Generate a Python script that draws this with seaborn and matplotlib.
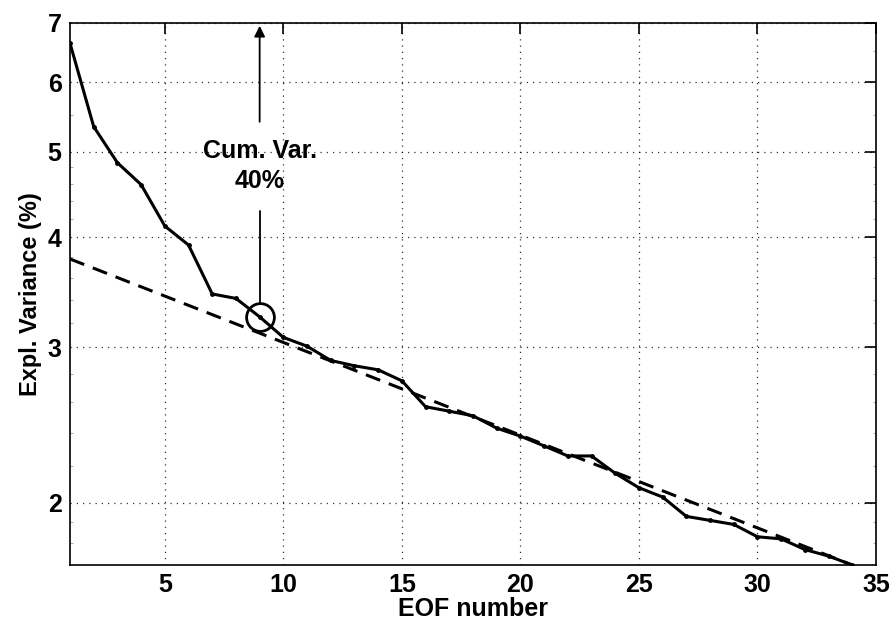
import numpy as np
import pandas as pd
import seaborn as sns
import matplotlib
matplotlib.use("Agg")
import matplotlib.pyplot as plt
from matplotlib.ticker import FixedLocator, NullFormatter

eof_number = list(range(1, 35))
expl_variance = [6.64, 5.34, 4.86, 4.59, 4.12, 3.92, 3.45, 3.41, 3.25, 3.08,
                 3.01, 2.90, 2.86, 2.83, 2.75, 2.57, 2.54, 2.51, 2.43, 2.38,
                 2.32, 2.26, 2.26, 2.16, 2.08, 2.03, 1.93, 1.91, 1.89, 1.83,
                 1.82, 1.77, 1.74, 1.70]
fit_x = [1, 34]
fit_y = [3.78, 1.70]
highlight_x = 9
highlight_y = 3.25
annotation_text = "Cum. Var.\n40%"
x_ticks = [5, 10, 15, 20, 25, 30, 35]
y_ticks = [2, 3, 4, 5, 6, 7]

sns.set_theme(style="white")
plt.rcParams['font.family'] = ['Liberation Sans', 'DejaVu Sans']
plt.rcParams['text.color'] = 'black'
plt.rcParams['axes.labelcolor'] = 'black'

df = pd.DataFrame({"EOF": eof_number, "Var": expl_variance})
df_fit = pd.DataFrame({"EOF": fit_x, "Var": fit_y})

fig = plt.figure(figsize=(8.93, 6.25), dpi=100)
ax = fig.add_axes([70/893, 60/625, 806/893, 542/625])

sns.lineplot(data=df_fit, x="EOF", y="Var", ax=ax, color="black",
             linewidth=2.2, linestyle=(0, (5, 3)))
sns.lineplot(data=df, x="EOF", y="Var", ax=ax, color="black",
             linewidth=2.2, marker="o", markersize=3.5, markeredgewidth=0)

ax.set_yscale("log")
ax.set_xlim(1, 35)
ax.set_ylim(1.7, 7)
ax.yaxis.set_major_locator(FixedLocator(y_ticks))
ax.set_yticklabels([str(t) for t in y_ticks])
ax.yaxis.set_minor_locator(FixedLocator([1.8, 1.9, 2.2, 2.4, 2.6, 2.8, 3.2, 3.4, 3.6, 3.8, 4.2, 4.4, 4.6, 4.8, 5.5, 6.5]))
ax.yaxis.set_minor_formatter(NullFormatter())
ax.xaxis.set_major_locator(FixedLocator(x_ticks))
ax.set_xticklabels([str(t) for t in x_ticks])

ax.grid(True, which="major", linestyle=(0, (1, 4)), color="black", linewidth=0.9, alpha=0.8)
for s in ax.spines.values():
    s.set_color("black")
    s.set_linewidth(1.2)

ax.tick_params(axis="both", which="major", direction="in", length=8, width=1.2,
               top=True, right=True, labelsize=18, colors="black", labelcolor="black")
ax.tick_params(axis="x", which="major", pad=6)
ax.tick_params(axis="y", which="major", pad=6)
ax.tick_params(axis="y", which="minor", direction="in", length=2, width=0.6,
               left=True, right=True, colors="0.6")
for lbl in ax.get_xticklabels() + ax.get_yticklabels():
    lbl.set_fontweight("bold")

ax.set_xlabel("EOF number", fontsize=18, fontweight="bold", labelpad=0, color="black")
ax.set_ylabel("Expl. Variance (%)", fontsize=17, fontweight="bold", labelpad=4, color="black")

# highlighted point and annotation
ax.plot([highlight_x], [highlight_y], marker="o", markersize=20, markerfacecolor="none",
        markeredgecolor="black", markeredgewidth=2)
ax.annotate("", xy=(highlight_x, 7.0), xytext=(highlight_x, 5.37),
            arrowprops=dict(arrowstyle="-|>", color="black", lw=1.3, mutation_scale=16))
ax.plot([highlight_x, highlight_x], [3.36, 4.29], color="black", lw=1.3)
ax.text(highlight_x, 4.82, annotation_text, ha="center", va="center",
        fontsize=18, fontweight="bold", linespacing=1.3, color="black")

fig.savefig("out.png", dpi=100)
